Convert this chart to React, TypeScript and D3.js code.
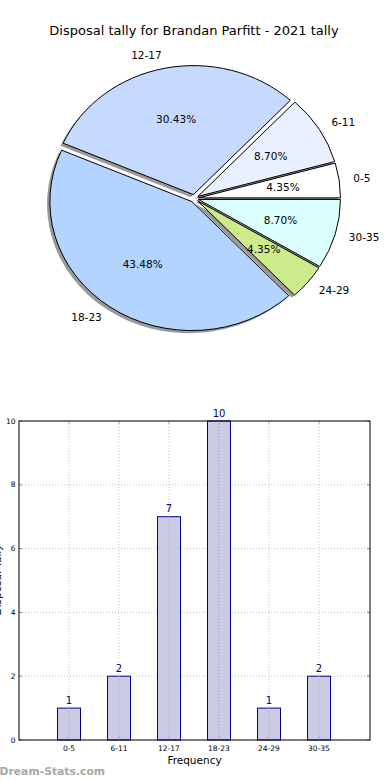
import React from "react";
import * as d3 from "d3";

const categories = ["0-5", "6-11", "12-17", "18-23", "24-29", "30-35"];
const counts = [1, 2, 7, 10, 1, 2];
const sliceColors = ["#ffffff", "#e9f0ff", "#c6d9ff", "#b3d4ff", "#cdeb8b", "#dbffff"];
const yTicks = [0, 2, 4, 6, 8, 10];
const title = "Disposal tally for Brandan Parfitt - 2021 tally";

const FONT = "DejaVu Sans, sans-serif";

export default function App() {
  const W = 390, H = 780;
  const cx = 194.3, cy = 198.4, rx = 142, ry = 129;
  const explode = 0.03;
  const total = d3.sum(counts);
  const pie = d3.pie<number>().sort(null).startAngle(Math.PI / 2).endAngle(Math.PI / 2 - 2 * Math.PI);
  const arcs = pie(counts);
  const pt = (a: number, f: number, ox: number, oy: number) => [cx + ox + f * rx * Math.sin(a), cy + oy - f * ry * Math.cos(a)];

  const slicePath = (a0: number, a1: number, ox: number, oy: number) => {
    const [x0, y0] = pt(a0, 1, ox, oy);
    const [x1, y1] = pt(a1, 1, ox, oy);
    const large = Math.abs(a1 - a0) > Math.PI ? 1 : 0;
    return `M${cx + ox},${cy + oy}L${x0},${y0}A${rx},${ry} 0 ${large} 0 ${x1},${y1}Z`;
  };

  const slices = arcs.map((a, i) => {
    const mid = (a.startAngle + a.endAngle) / 2;
    const ox = explode * rx * Math.sin(mid);
    const oy = -explode * ry * Math.cos(mid);
    return { a, i, mid, ox, oy };
  });

  const left = 19, right = 370, top = 421, bottom = 740;
  const x = d3.scaleLinear().domain([-1, 6.02]).range([left, right]);
  const y = d3.scaleLinear().domain([0, 10]).range([bottom, top]);
  const bw = x(0.46) - x(0);

  return (
    <svg width={W} height={H} style={{ position: "absolute", left: 0, top: 0, background: "#fff" }} fontFamily={FONT}>
      <rect x={0} y={0} width={W} height={H} fill="#fff" />
      <text x={194} y={35} fontSize={13} textAnchor="middle" fill="#000">{title}</text>

      {slices.map(({ a, i, ox, oy }) => (
        <path key={"s" + i} d={slicePath(a.startAngle, a.endAngle, ox - 2.8, oy + 2.6)} fill="#000" fillOpacity={0.4} stroke="none" />
      ))}
      {slices.map(({ a, i, ox, oy }) => (
        <path key={"p" + i} d={slicePath(a.startAngle, a.endAngle, ox, oy)} fill={sliceColors[i]} stroke="#000" strokeWidth={1} strokeLinejoin="round" />
      ))}
      {slices.map(({ a, i, mid, ox, oy }) => {
        const [lx, ly] = pt(mid, 1.1, ox, oy);
        const [px, py] = pt(mid, 0.6, ox, oy);
        const anchor = Math.sin(mid) > 0 ? "start" : "end";
        return (
          <g key={"l" + i}>
            <text x={lx} y={ly} dy="0.35em" fontSize={10.5} textAnchor={anchor}>{categories[i]}</text>
            <text x={px} y={py} dy="0.35em" fontSize={10.5} textAnchor="middle">{((counts[i] / total) * 100).toFixed(2)}%</text>
          </g>
        );
      })}

      {yTicks.map((t) => (
        <line key={"gy" + t} x1={left} x2={right} y1={y(t)} y2={y(t)} stroke="#c4c4c4" strokeDasharray="1,2" />
      ))}
      {categories.map((c, i) => (
        <line key={"gx" + i} x1={x(i)} x2={x(i)} y1={top} y2={bottom} stroke="#c4c4c4" strokeDasharray="1,2" />
      ))}

      {counts.map((v, i) => (
        <g key={"b" + i}>
          <rect x={x(i) - bw / 2} y={y(v)} width={bw} height={y(0) - y(v)} fill="#cbcbe6" stroke="#00008b" strokeWidth={1} />
          <line x1={x(i)} x2={x(i)} y1={y(v)} y2={bottom} stroke="#aaa" strokeDasharray="1,2" />
          <text x={x(i)} y={y(v) - 4.5} fontSize={10} textAnchor="middle" fill="#00008b">{v}</text>
        </g>
      ))}

      {yTicks.map((t) => (
        <g key={"ty" + t}>
          <line x1={left} x2={left + 3} y1={y(t)} y2={y(t)} stroke="#888" />
          <line x1={right - 3} x2={right} y1={y(t)} y2={y(t)} stroke="#888" />
          <text x={15.5} y={y(t)} dy="0.35em" fontSize={7.5} textAnchor="end">{t}</text>
        </g>
      ))}
      {categories.map((c, i) => (
        <g key={"tx" + i}>
          <line x1={x(i)} x2={x(i)} y1={top} y2={top + 3} stroke="#aaa" />
          <line x1={x(i)} x2={x(i)} y1={bottom - 3} y2={bottom} stroke="#aaa" />
          <text x={x(i)} y={751} fontSize={7.5} textAnchor="middle">{c}</text>
        </g>
      ))}

      <rect x={left} y={top} width={right - left} height={bottom - top} fill="none" stroke="#000" strokeWidth={1} />

      <text x={194.5} y={764} fontSize={10.5} textAnchor="middle">Frequency</text>
      <text transform={`translate(1,580) rotate(-90)`} fontSize={10.5} textAnchor="middle">Disposal Tally</text>
      <text x={-0.5} y={775} fontSize={10.8} fontWeight="bold" fill="#a8a8a8">Dream-Stats.com</text>
    </svg>
  );
}
